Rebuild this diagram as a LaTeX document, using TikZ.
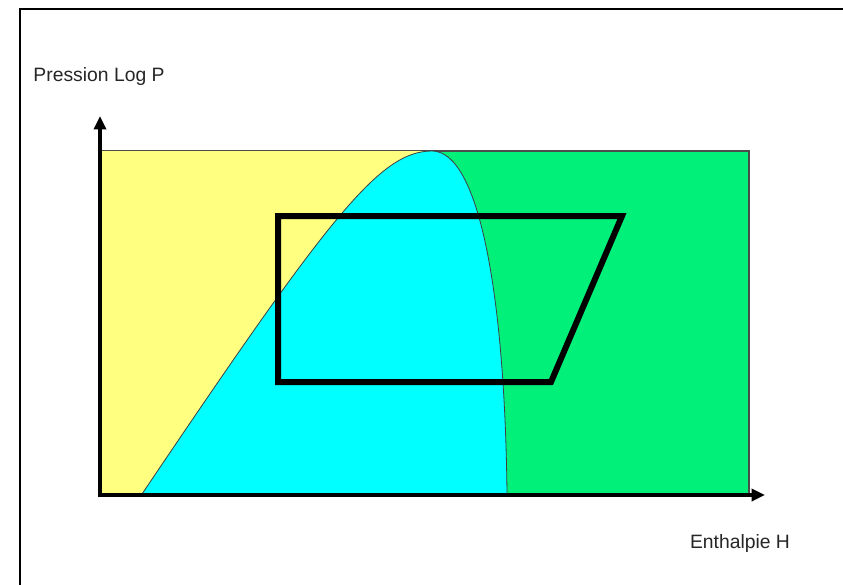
\documentclass[tikz,border=0pt]{standalone}
\usepackage{fontspec}
\setmainfont{Liberation Sans}
\usepackage{tikz}
\usetikzlibrary{arrows.meta}

\definecolor{liquide}{RGB}{255,255,128}
\definecolor{melange}{RGB}{0,255,255}
\definecolor{vapeur}{RGB}{0,240,122}

\begin{document}
\begin{tikzpicture}[x=0.75pt, y=-0.75pt,
    axis/.style={line width=3pt, -{Triangle[length=10pt,width=9pt]}},
    cycle/.style={line width=4.5pt, line join=miter},
    label/.style={font=\fontsize{14.5}{17}\selectfont, text=black!85}]
    \useasboundingbox (0,0) rectangle (843,585);
    \fill[white] (0,0) rectangle (843,585);
    \draw[line width=1.5pt] (20,585) -- (20,9) -- (843,9);

    % zones
    \draw[fill=vapeur, draw=black!70, line width=0.8pt] (101,151) rectangle (749,494);
    \fill[liquide] (101,151) -- (432,151) .. controls (380,151) and (330,215) .. (142,494) -- (101,494) -- cycle;
    \draw[fill=melange, draw=black!75, line width=0.6pt] (142,494) .. controls (330,215) and (380,151) .. (432,151)
        .. controls (480,151) and (505,300) .. (507,494);

    % cycle
    \coordinate (A) at (278,216);
    \coordinate (B) at (622,216);
    \coordinate (C) at (551,382);
    \coordinate (D) at (278,382);
    \draw[cycle] (A) -- (B) -- (C) -- (D) -- cycle;

    % axes
    \coordinate (O) at (100,495);
    \coordinate (Ytip) at (100,116);
    \coordinate (Xtip) at (765,495);
    \draw[axis] ([xshift=-1.5pt]O) -- (Xtip);
    \draw[axis] ([yshift=-1.5pt]O) -- (Ytip);

    \node (ylab) [label] at (99,77) {Pression Log P};
    \node (xlab) [label] at (740,543) {Enthalpie H};
\end{tikzpicture}
\end{document}
